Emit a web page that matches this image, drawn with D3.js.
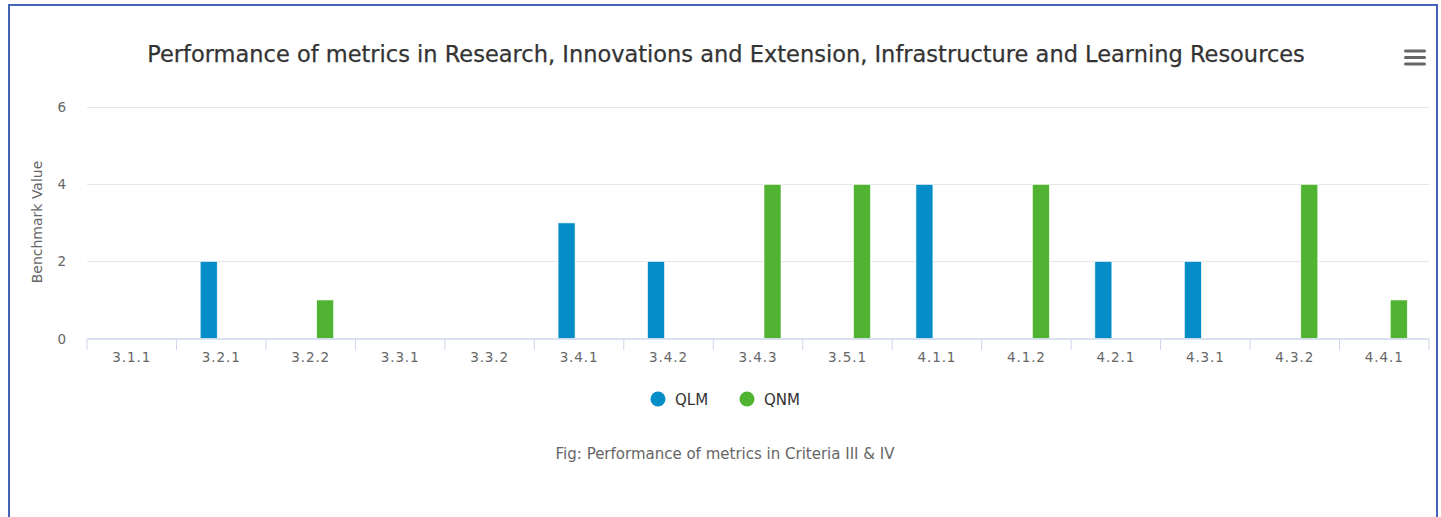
<!DOCTYPE html>
<html>
<head>
<meta charset="utf-8">
<title>Performance of metrics</title>
<script src="https://d3js.org/d3.v7.min.js"></script>
<style>
body { margin: 0; background: #fff; }
text { font-family: "DejaVu Sans", Verdana, sans-serif; }
</style>
</head>
<body>
<div id="chart"></div>
<script>
var categories = ["3.1.1","3.2.1","3.2.2","3.3.1","3.3.2","3.4.1","3.4.2","3.4.3","3.5.1","4.1.1","4.1.2","4.2.1","4.3.1","4.3.2","4.4.1"];
var seriesNames = ["QLM", "QNM"];
var qlm = [0,2,0,0,0,3,2,0,0,4,0,2,2,0,0];
var qnm = [0,0,1,0,0,0,0,4,4,0,4,0,0,4,1];
var yTicks = [0,2,4,6];
var colors = ["#058DC7", "#50B432"];

var W = 1441, H = 517,
    plotLeft = 87, plotRight = 1429, plotTop = 107.3, plotBottom = 338.5;

var svg = d3.select("#chart").append("svg")
    .attr("width", W).attr("height", H);

// frame
svg.append("rect")
   .attr("x", 9).attr("y", 5).attr("width", 1428).attr("height", 540)
   .attr("fill", "none").attr("stroke", "#4466b8").attr("stroke-width", 2);

var x0 = d3.scaleBand().domain(categories).range([plotLeft, plotRight]).padding(0);
var x1 = d3.scaleBand().domain(seriesNames).range([-21, 23]).paddingInner(0.37);
var y = d3.scaleLinear().domain([0, 6]).range([plotBottom, plotTop]);

// grid
svg.append("g").selectAll("line").data(yTicks.filter(function(d){ return d > 0; }))
  .join("line")
   .attr("x1", plotLeft).attr("x2", plotRight)
   .attr("y1", function(d){ return Math.round(y(d)) + 0.5; })
   .attr("y2", function(d){ return Math.round(y(d)) + 0.5; })
   .attr("stroke", "#e6e6e6");

// y labels
svg.append("g").selectAll("text").data(yTicks).join("text")
   .attr("x", 66).attr("y", function(d){ return y(d) + 5; })
   .attr("text-anchor", "end").attr("fill", "#666").attr("font-size", 13.5)
   .text(function(d){ return d; });

svg.append("text")
   .attr("transform", "translate(42,222) rotate(-90)")
   .attr("text-anchor", "middle").attr("fill", "#666").attr("font-size", 14)
   .text("Benchmark Value");

// bars
var rows = categories.map(function(c, i){ return {cat: c, vals: [qlm[i], qnm[i]]}; });
var groups = svg.append("g").selectAll("g").data(rows).join("g")
   .attr("transform", function(d){ return "translate(" + (x0(d.cat) + x0.bandwidth() / 2) + ",0)"; });
groups.selectAll("rect").data(function(d){
      return d.vals.map(function(v, k){ return {name: seriesNames[k], v: v, k: k}; }).filter(function(e){ return e.v > 0; });
   })
  .join("rect")
   .attr("x", function(d){ return x1(d.name); })
   .attr("width", x1.bandwidth())
   .attr("y", function(d){ return y(d.v); })
   .attr("height", function(d){ return y(0) - y(d.v); })
   .attr("fill", function(d){ return colors[d.k]; })
   .attr("stroke", "#fff").attr("stroke-width", 0.6);

// x axis
var xAxis = svg.append("g").attr("transform", "translate(0," + (plotBottom + 0.5) + ")");
xAxis.append("line").attr("x1", plotLeft).attr("x2", plotRight).attr("stroke", "#ccd6eb").attr("stroke-width", 1.5);
xAxis.selectAll("line.tick").data(categories.concat(["end"])).join("line")
   .attr("class", "tick")
   .attr("x1", function(d, i){ return plotLeft + i * x0.step(); })
   .attr("x2", function(d, i){ return plotLeft + i * x0.step(); })
   .attr("y1", 0).attr("y2", 11)
   .attr("stroke", "#ccd6eb");
xAxis.selectAll("text").data(categories).join("text")
   .attr("x", function(d){ return x0(d) + x0.bandwidth() / 2; })
   .attr("y", 22.5)
   .attr("text-anchor", "middle").attr("fill", "#666").attr("font-size", 13.5)
   .attr("letter-spacing", 0.9)
   .text(function(d){ return d; });

// title
var title = svg.append("text")
   .attr("x", 726).attr("y", 62)
   .attr("text-anchor", "middle").attr("fill", "#333").attr("font-size", 20)
   .attr("stroke", "#333").attr("stroke-width", 0.25)
   .text("Performance of metrics in Research, Innovations and Extension, Infrastructure and Learning Resources");
var tw = title.node().getComputedTextLength();
title.attr("font-size", 20 * 1158 / tw);

// menu icon
svg.append("g").selectAll("line").data([51, 57.5, 64]).join("line")
   .attr("x1", 1405.5).attr("x2", 1424.5)
   .attr("y1", function(d){ return d; }).attr("y2", function(d){ return d; })
   .attr("stroke", "#666").attr("stroke-width", 3).attr("stroke-linecap", "round");

// legend
var legend = svg.append("g").selectAll("g").data(seriesNames).join("g")
   .attr("transform", function(d, i){ return "translate(" + (658 + i * 89) + ",399)"; });
legend.append("circle").attr("r", 7.5).attr("fill", function(d, i){ return colors[i]; });
legend.append("text").attr("x", 17).attr("y", 5.5)
   .attr("fill", "#333").attr("font-size", 15)
   .text(function(d){ return d; });

// caption
svg.append("text")
   .attr("x", 725).attr("y", 459)
   .attr("text-anchor", "middle").attr("fill", "#666").attr("font-size", 15)
   .text("Fig: Performance of metrics in Criteria III & IV");
</script>
</body>
</html>
